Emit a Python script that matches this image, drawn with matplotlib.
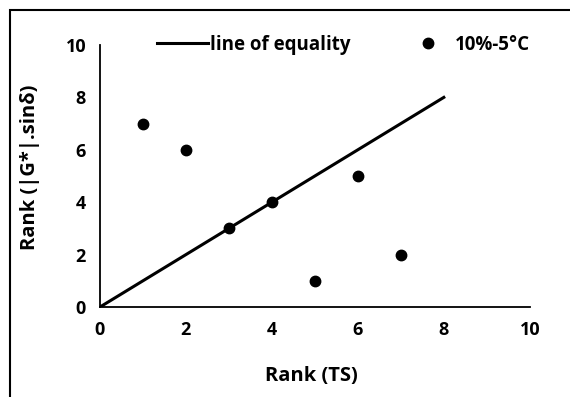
import matplotlib.pyplot as plt
from matplotlib.patches import Rectangle

rank_ts = [1, 2, 3, 4, 5, 6, 7]
rank_g = [7, 6, 3, 4, 1, 5, 2]
equality_x = [0, 8]
equality_y = [0, 8]
ticks = [0, 2, 4, 6, 8, 10]

plt.rcParams['font.family'] = ['Open Sans', 'DejaVu Sans']
plt.rcParams['font.weight'] = 'bold'

fig = plt.figure(figsize=(5.7, 3.97), dpi=100)
ax = fig.add_axes([0.1754, 0.2267, 0.754, 0.66])

ax.plot(equality_x, equality_y, color='black', linewidth=2.2, label='line of equality')
ax.plot(rank_ts, rank_g, 'o', color='black', markersize=7.5, label='10%-5°C')

ax.set_xlim(0, 10)
ax.set_ylim(0, 10)
ax.set_xticks(ticks)
ax.set_yticks(ticks)
ax.tick_params(length=0, labelsize=13, pad=10)
for s in ['top', 'right']:
    ax.spines[s].set_visible(False)
for s in ['left', 'bottom']:
    ax.spines[s].set_linewidth(1.3)

ax.set_xlabel('Rank (TS)', fontsize=14.5, fontweight='bold')
ax.set_ylabel('Rank (|G*|.sinδ)', fontsize=14.5, fontweight='bold')
ax.xaxis.set_label_coords(0.492, -0.225)
ax.yaxis.set_label_coords(-0.14, 0.535)

ax.legend(loc='center', bbox_to_anchor=(0.603, 0.887), bbox_transform=fig.transFigure,
          ncol=2, frameon=False, fontsize=13.5, columnspacing=2.8, handlelength=2.7,
          handletextpad=0.1)

# outer frame (clipped at right and bottom like the source image)
fig.patches.append(Rectangle((10 / 570, -0.1), 1.1, 1 - 10 / 397 + 0.1,
                             transform=fig.transFigure, fill=False,
                             edgecolor='black', linewidth=1.5))

plt.savefig('out.png', dpi=100)
